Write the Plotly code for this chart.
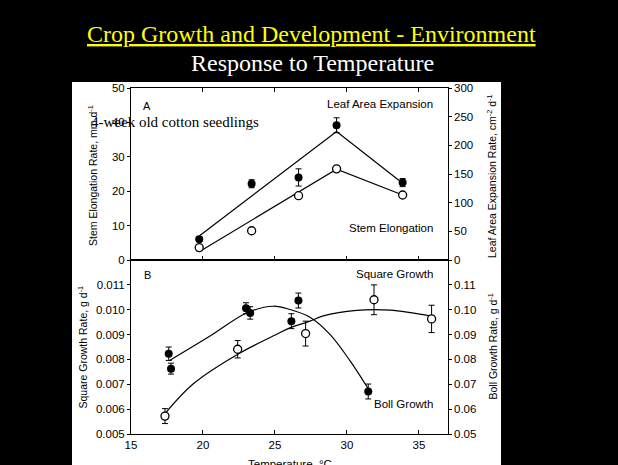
import plotly.graph_objects as go

# ---- Panel A: seedling growth vs temperature ----
temp_a = [19.74, 23.38, 26.64, 29.28, 33.87]
leaf_area = [36, 133, 144, 235, 135]          # cm2 d-1 (filled, right axis)
leaf_area_err = [3, 7, 15, 13, 7]
stem_elong = [3.6, 8.5, 18.7, 26.5, 18.9]     # mm d-1 (open, left axis)
stem_elong_err = [0, 0, 0, 0, 0]

leaf_fit_t = [19.74, 29.28, 33.87]
leaf_fit = [42, 224, 134]
stem_fit_t = [19.74, 29.28, 33.87]
stem_fit = [2.4, 26.4, 18.9]

# ---- Panel B: fruit growth vs temperature ----
boll_t = [17.62, 17.78, 22.99, 23.28, 26.14, 26.63, 31.48]
boll_rate = [0.0823, 0.0763, 0.1006, 0.0987, 0.0954, 0.1037, 0.0671]   # g d-1 (filled, right axis)
boll_err = [0.0027, 0.0022, 0.0022, 0.0025, 0.003, 0.003, 0.003]
square_t = [17.36, 22.41, 27.13, 31.88, 35.88]
square_rate = [0.00572, 0.00841, 0.00904, 0.0104, 0.00963]          # g d-1 (open, left axis)
square_err = [0.0003, 0.00035, 0.0005, 0.0006, 0.00055]

boll_fit_t = [17.66, 20.49, 23.03, 24.88, 26.04, 27.43, 28.82, 30.21, 31.48]
boll_fit = [0.0795, 0.0894, 0.0987, 0.1014, 0.1001, 0.0970, 0.0901, 0.0795, 0.0682]
square_fit_t = [17.36, 19.33, 22.45, 25.12, 26.04, 27.43, 28.35, 30.67, 32.99, 35.88]
square_fit = [0.00582, 0.00702, 0.00822, 0.00901, 0.00927, 0.00954, 0.00975, 0.00997, 0.00998, 0.00974]

# ---- tick labels ----
temp_ticks = [15, 20, 25, 30, 35]
stem_ticks = [0, 10, 20, 30, 40, 50]
leaf_ticks = [0, 50, 100, 150, 200, 250, 300]
square_ticks = [0.005, 0.006, 0.007, 0.008, 0.009, 0.010, 0.011]
boll_ticks = [0.05, 0.06, 0.07, 0.08, 0.09, 0.10, 0.11]

W, H = 618, 465
def px(x):
    return x / W
def py(y):
    return 1 - y / H

SANS = "Liberation Sans, Arial, sans-serif"
SERIF = "Liberation Serif, Times New Roman, serif"

fig = go.Figure()

line_style = dict(color="black", width=1.2)
filled = dict(color="black", size=8, line=dict(width=0))
hollow = dict(color="white", size=8, line=dict(color="black", width=1.3))
def err(vals):
    return dict(type="data", array=vals, color="black", thickness=1, width=3)

# Panel A lines and markers
fig.add_trace(go.Scatter(x=leaf_fit_t, y=leaf_fit, mode="lines", line=line_style,
                         xaxis="x", yaxis="y2"))
fig.add_trace(go.Scatter(x=stem_fit_t, y=stem_fit, mode="lines", line=line_style,
                         xaxis="x", yaxis="y"))
fig.add_trace(go.Scatter(x=temp_a, y=leaf_area, mode="markers", marker=filled,
                         error_y=err(leaf_area_err), xaxis="x", yaxis="y2"))
fig.add_trace(go.Scatter(x=temp_a, y=stem_elong, mode="markers", marker=hollow,
                         error_y=err(stem_elong_err), xaxis="x", yaxis="y"))

# Panel B curves and markers
fig.add_trace(go.Scatter(x=boll_fit_t, y=boll_fit, mode="lines",
                         line=dict(color="black", width=1.2, shape="spline", smoothing=1),
                         xaxis="x2", yaxis="y4"))
fig.add_trace(go.Scatter(x=square_fit_t, y=square_fit, mode="lines",
                         line=dict(color="black", width=1.2, shape="spline", smoothing=1),
                         xaxis="x2", yaxis="y3"))
fig.add_trace(go.Scatter(x=boll_t, y=boll_rate, mode="markers", marker=filled,
                         error_y=err(boll_err), xaxis="x2", yaxis="y4"))
fig.add_trace(go.Scatter(x=square_t, y=square_rate, mode="markers", marker=hollow,
                         error_y=err(square_err), xaxis="x2", yaxis="y3"))

tickfont = dict(family=SANS, size=11.5, color="black")
xdom = [px(131), px(447.7)]
common_x = dict(domain=xdom, range=[15, 37], tickvals=temp_ticks, ticks="inside", ticklen=4,
                tickcolor="black", showline=True, linecolor="black", linewidth=1,
                showgrid=False, zeroline=False, tickfont=tickfont, automargin=False)
common_y = dict(ticks="outside", ticklen=3, tickcolor="black", showline=True,
                linecolor="black", linewidth=1, showgrid=False, zeroline=False,
                tickfont=tickfont, automargin=False)

fig.update_layout(
    width=W, height=H,
    margin=dict(l=0, r=0, t=0, b=0),
    paper_bgcolor="black", plot_bgcolor="white",
    showlegend=False,
    xaxis=dict(**common_x, anchor="y", showticklabels=False, mirror="ticks"),
    yaxis=dict(**common_y, domain=[py(260), py(88)], anchor="x", range=[0, 50],
               tickvals=stem_ticks),
    yaxis2=dict(**common_y, overlaying="y", side="right", anchor="x", range=[0, 300],
                tickvals=leaf_ticks),
    xaxis2=dict(**common_x, anchor="y3", mirror=True),
    yaxis3=dict(**common_y, domain=[py(434), py(260)], anchor="x2", range=[0.005, 0.012],
                tickvals=square_ticks, tickformat=".3f"),
    yaxis4=dict(**common_y, overlaying="y3", side="right", anchor="x2", range=[0.05, 0.12],
                tickvals=boll_ticks, tickformat=".2f"),
)

# white slide panel behind the charts
fig.add_shape(type="rect", xref="paper", yref="paper", x0=px(72), x1=px(501),
              y0=0, y1=py(82), fillcolor="white", line=dict(width=0), layer="below")

ann = []
def label(text, x, y, xanchor="center", yanchor="middle", size=11.5, family=SANS,
          color="black", angle=0):
    ann.append(dict(text=text, x=px(x), y=py(y), xref="paper", yref="paper",
                    xanchor=xanchor, yanchor=yanchor, showarrow=False, textangle=angle,
                    font=dict(family=family, size=size, color=color)))

label("<u>Crop Growth and Development - Environment</u>", 311.5, 34, size=24,
      family=SERIF, color="#ffff00")
label("Response to Temperature", 312, 63, size=24, family=SERIF, color="white")

label("A", 147, 106, size=11)
label("4-week old cotton seedlings", 89, 122, xanchor="left", size=15, family=SERIF)
label("Leaf Area Expansion", 435, 104, xanchor="right", size=11.5)
label("Stem Elongation", 435, 228, xanchor="right", size=11.5)
label("B", 147, 275, size=11)
label("Square Growth", 435, 273.5, xanchor="right", size=11.5)
label("Boll Growth", 435, 404, xanchor="right", size=11.5)

label("Stem Elongation Rate, mm d<sup>-1</sup>", 93, 176, size=10.5, angle=-90)
label("Leaf Area Expansion Rate, cm<sup>-2</sup> d<sup>-1</sup>", 492, 176, size=10.5, angle=-90)
label("Square Growth Rate, g d<sup>-1</sup>", 82, 347.5, size=10.5, angle=-90)
label("Boll Growth Rate, g d<sup>-1</sup>", 492, 346.5, size=10.5, angle=-90)
label("Temperature, °C", 290, 456, yanchor="top", size=11.5)

fig.update_layout(annotations=ann)
fig.write_html("out.html")
